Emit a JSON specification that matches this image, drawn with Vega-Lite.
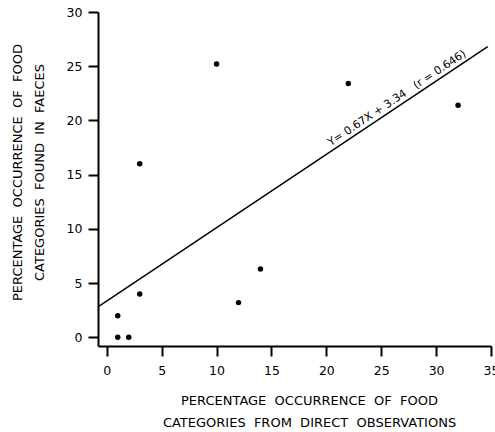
{
  "$schema": "https://vega.github.io/schema/vega-lite/v6.json",
  "width": 393,
  "height": 334,
  "autosize": {"type": "none"},
  "padding": {"left": 98, "top": 12, "right": 4, "bottom": 86},
  "background": "white",
  "config": {
    "view": {"stroke": null},
    "font": "DejaVu Sans",
    "axis": {
      "grid": false,
      "domainColor": "black",
      "domainWidth": 2,
      "tickColor": "black",
      "tickWidth": 2,
      "tickSize": 10,
      "labelColor": "black",
      "labelFontSize": 12.5,
      "labelFlush": false,
      "labelOverlap": false,
      "titleColor": "black",
      "titleFontSize": 13,
      "titleFontWeight": "normal",
      "titleLineHeight": 22
    }
  },
  "datasets": {
    "points": [
      {"x": 1, "y": 0},
      {"x": 2, "y": 0},
      {"x": 1, "y": 2},
      {"x": 3, "y": 4},
      {"x": 3, "y": 16},
      {"x": 10, "y": 25.2},
      {"x": 12, "y": 3.2},
      {"x": 14, "y": 6.3},
      {"x": 22, "y": 23.4},
      {"x": 32, "y": 21.4}
    ],
    "fit": [
      {"x": -0.8, "y": 2.8},
      {"x": 34.7, "y": 26.8}
    ],
    "label": [
      {"x": 26.8, "y": 21.5, "label": "Y= 0.67X + 3.34\u00a0\u00a0 (r = 0.646)"}
    ]
  },
  "encoding": {
    "x": {
      "field": "x",
      "type": "quantitative",
      "scale": {"domain": [-0.8, 35], "nice": false, "zero": false},
      "axis": {
        "values": [0, 5, 10, 15, 20, 25, 30, 35],
        "labelPadding": 8,
        "title": ["PERCENTAGE\u00a0 OCCURRENCE\u00a0 OF\u00a0 FOOD", "CATEGORIES\u00a0 FROM\u00a0 DIRECT\u00a0 OBSERVATIONS"],
        "titlePadding": 18,
        "titleX": 211
      }
    },
    "y": {
      "field": "y",
      "type": "quantitative",
      "scale": {"domain": [-0.8, 30], "nice": false, "zero": false},
      "axis": {
        "values": [0, 5, 10, 15, 20, 25, 30],
        "labelPadding": 6,
        "title": ["PERCENTAGE\u00a0 OCCURRENCE\u00a0 OF\u00a0 FOOD", "CATEGORIES\u00a0 FOUND\u00a0 IN\u00a0 FAECES"],
        "titlePadding": 20,
        "titleY": 160
      }
    }
  },
  "layer": [
    {
      "data": {"name": "fit"},
      "mark": {"type": "line", "color": "black", "strokeWidth": 1.5}
    },
    {
      "data": {"name": "points"},
      "mark": {"type": "point", "filled": true, "color": "black", "size": 30, "opacity": 1}
    },
    {
      "data": {"name": "label"},
      "mark": {"type": "text", "angle": -33.7, "align": "center", "baseline": "alphabetic", "dy": -4, "fontSize": 11, "color": "black"},
      "encoding": {"text": {"field": "label"}}
    }
  ]
}
